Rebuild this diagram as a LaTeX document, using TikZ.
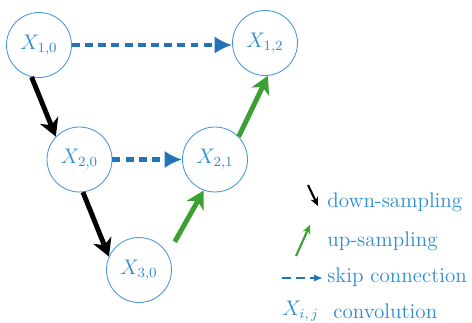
\documentclass[tikz,border=0pt]{standalone}
\usepackage{amsmath, amssymb}
\usetikzlibrary{arrows.meta}
\definecolor{nodeblue}{RGB}{75,150,220}
\definecolor{textblue}{RGB}{45,140,210}
\definecolor{skipblue}{RGB}{35,115,185}
\definecolor{upgreen}{RGB}{60,160,50}
\tikzset{
  conv/.style={circle, draw=nodeblue, line width=0.5pt, minimum size=1.3cm,
    inner sep=0pt, text=textblue, font=\fontsize{12}{14}\selectfont},
  down/.style={line width=2.8pt, black, -{Stealth[length=10pt, width=11pt, inset=3pt]}},
  up/.style={line width=2.8pt, upgreen, -{Stealth[length=10pt, width=11pt, inset=3pt]}},
  skip/.style={line width=2.8pt, skipblue, dash pattern=on 4.5pt off 3pt, -{Latex[length=10pt, width=10pt]}},
  legtext/.style={anchor=west, text=textblue, inner sep=0pt, font=\fontsize{12}{14}\selectfont}
}

\begin{document}
\begin{tikzpicture}[x=0.02cm, y=-0.02cm]
                \useasboundingbox (0,0) rectangle (472,323);
                % nodes
                \node[conv] (x10) at (39,45) {$X_{1,0}$};
                \node[conv] (x12) at (265,43) {$X_{1,2}$};
                \node[conv] (x20) at (79.5,159.5) {$X_{2,0}$};
                \node[conv] (x21) at (215,159.5) {$X_{2,1}$};
                \node[conv] (x30) at (139,270) {$X_{3,0}$};
                % connections
                \draw[skip] (x10.east) -- (x10.east -| x12.west);
                \draw[skip] (x20.east) -- (x21.west);
                \draw[down] (x10.-103) -- (x20.136);
                \draw[down] (x20.-84) -- (x30.156);
                \draw[up, shorten <=8pt] (x30.29) -- (x21.-110);
                \draw[up] (x21.44) -- (x12.-85);
                % legend
                \coordinate (d1) at (308,185); \coordinate (d2) at (318,206);
                \coordinate (u1) at (296,256); \coordinate (u2) at (310,225);
                \coordinate (s1) at (282,278); \coordinate (s2) at (323,278);
                \draw[black, line width=1.2pt, -{Stealth[length=5pt, width=4.5pt]}] (d1) -- (d2);
                \draw[upgreen, line width=1.2pt, -{Stealth[length=5pt, width=4.5pt]}] (u1) -- (u2);
                \draw[skipblue, line width=1.2pt, dash pattern=on 5pt off 3pt, -{Latex[length=5pt, width=4pt]}] (s1) -- (s2);
                \node[legtext] (ldown) at (327,202) {down-sampling};
                \node[legtext] (lup) at (327,241) {up-sampling};
                \node[legtext] (lskip) at (327,277) {skip connection};
                \node[legtext] (lxij) at (282,311) {$X_{i,\,j}$};
                \node[legtext] (lconv) at (333,311) {convolution};
            \end{tikzpicture}
\end{document}
